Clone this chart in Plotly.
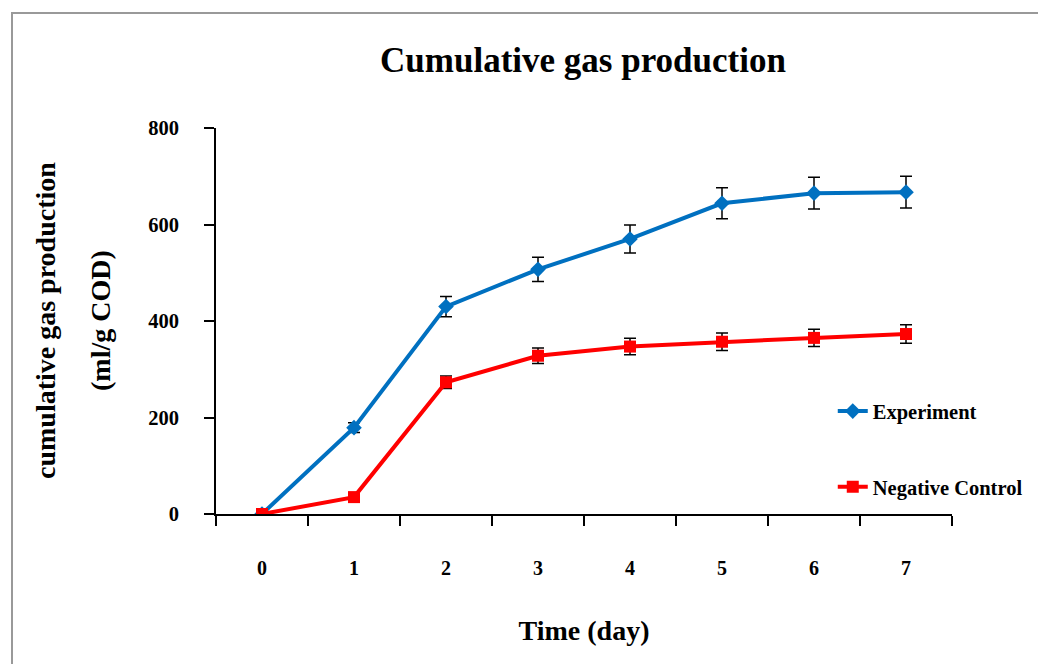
import plotly.graph_objects as go

days = ["0", "1", "2", "3", "4", "5", "6", "7"]
experiment = [0, 179, 430, 507, 570, 644, 665, 667]
experiment_err = [0, 10, 21, 25, 29, 32, 33, 33]
negative = [0, 35, 273, 328, 347, 357, 365, 373]
negative_err = [0, 4, 13, 16, 17, 18, 18, 19]

FONT = "Liberation Serif"

fig = go.Figure()
fig.add_trace(go.Scatter(
    x=days, y=experiment, name="<b>Experiment</b>", mode="lines+markers",
    line=dict(color="#0070C0", width=4),
    marker=dict(symbol="diamond", size=12, color="#0070C0"),
    error_y=dict(type="data", array=experiment_err, color="black", thickness=1.5, width=6),
    legendgroup="a",
))
fig.add_trace(go.Scatter(
    x=days, y=negative, name="<b>Negative Control</b>", mode="lines+markers",
    line=dict(color="#FF0000", width=4),
    marker=dict(symbol="square", size=12, color="#FF0000"),
    error_y=dict(type="data", array=negative_err, color="black", thickness=1.5, width=6),
    legendgroup="b",
))

fig.update_layout(
    width=1038, height=656,
    margin=dict(l=208, r=94, t=120, b=150),
    paper_bgcolor="white", plot_bgcolor="white",
    font=dict(family=FONT, color="black", size=18),
    title=dict(text="<b>Cumulative gas production</b>", x=(583 - 8) / 1038, xanchor="center",
               y=1 - (60 - 8) / 656, yanchor="middle", font=dict(size=35, family=FONT)),
    showlegend=True,
    legend=dict(x=0.838, y=0.318, xanchor="left", yanchor="top",
                font=dict(size=20.5, family=FONT), tracegroupgap=46,
                bgcolor="rgba(0,0,0,0)"),
    xaxis=dict(type="category", range=[-0.5, 7.5], tickson="boundaries",
               ticks="outside", ticklen=10, tickwidth=2, tickcolor="black",
               showline=True, linecolor="black", linewidth=2, showgrid=False,
               zeroline=False, ticklabelstandoff=35,
               tickfont=dict(size=20, family=FONT, weight="bold"),
               title=dict(text="<b>Time (day)</b>", font=dict(size=28, family=FONT), standoff=42)),
    yaxis=dict(range=[0, 800], tickvals=[0, 200, 400, 600, 800],
               ticks="outside", ticklen=10, tickwidth=2, tickcolor="black",
               showline=True, linecolor="black", linewidth=2, showgrid=False,
               zeroline=False, ticklabelstandoff=21,
               tickfont=dict(size=20.5, family=FONT, weight="bold")),
)

fig.add_annotation(text="<b>cumulative gas production</b>", xref="paper", yref="paper",
                   x=(45 - 216) / 736, y=0.5, textangle=-90, showarrow=False,
                   xanchor="center", yanchor="middle", font=dict(size=28, family=FONT))
fig.add_annotation(text="<b>(ml/g COD)</b>", xref="paper", yref="paper",
                   x=(100 - 216) / 736, y=0.5, textangle=-90, showarrow=False,
                   xanchor="center", yanchor="middle", font=dict(size=28, family=FONT))

fig.add_shape(type="rect", xref="paper", yref="paper",
              x0=(12 - 216) / 736, x1=1.5, y0=-1.0, y1=(514 - 13) / 386,
              line=dict(color="#999999", width=2), fillcolor="rgba(0,0,0,0)", layer="below")

fig.write_html("out.html")
